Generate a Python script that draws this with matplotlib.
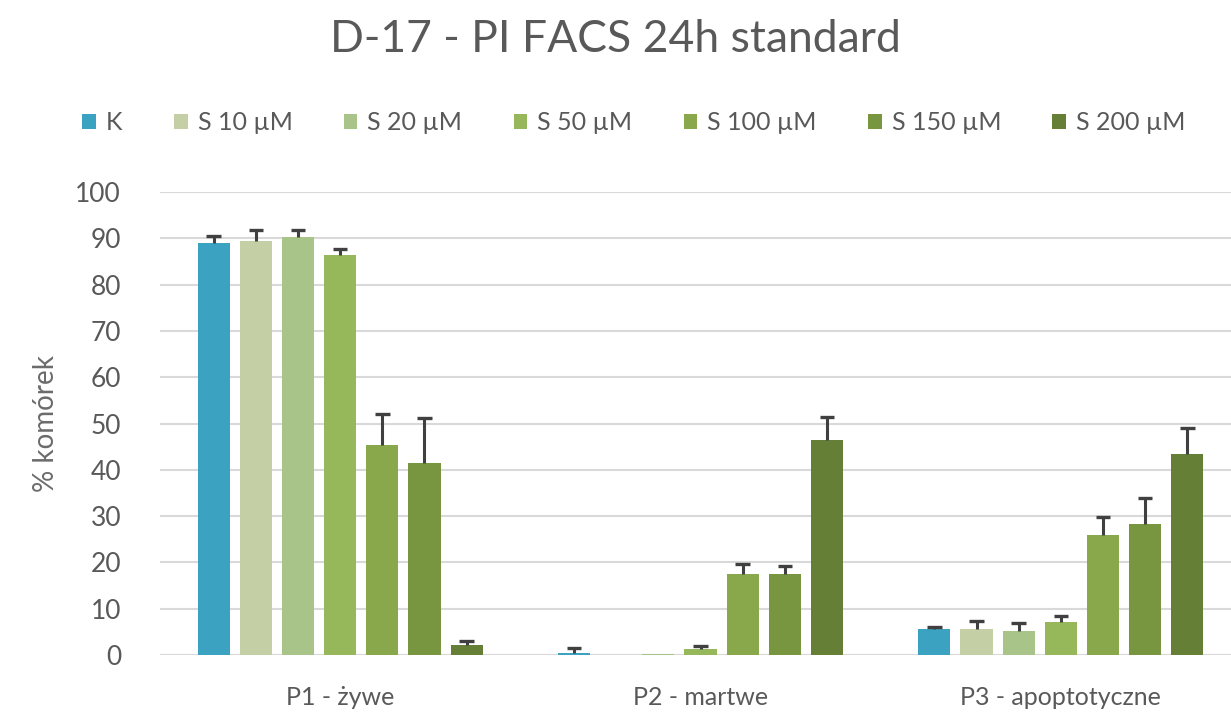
import numpy as np
import matplotlib.pyplot as plt
from matplotlib.patches import Patch

categories = ['P1 - żywe', 'P2 - martwe', 'P3 - apoptotyczne']
series = ['K', 'S 10 µM', 'S 20 µM', 'S 50 µM', 'S 100 µM', 'S 150 µM', 'S 200 µM']

# mean % of cells per series, one value per category
means = [
    [89.0, 0.5, 5.6],
    [89.4, 0.0, 5.6],
    [90.3, 0.3, 5.2],
    [86.4, 1.3, 7.1],
    [45.4, 17.4, 25.9],
    [41.5, 17.4, 28.3],
    [2.2, 46.5, 43.4],
]
# upper error (SD)
errors = [
    [1.4, 1.0, 0.5],
    [2.4, 0.0, 1.8],
    [1.5, 0.0, 1.8],
    [1.3, 0.6, 1.3],
    [6.6, 2.2, 3.9],
    [9.7, 1.8, 5.6],
    [0.9, 4.8, 5.6],
]
colors = ['#3BA3C1', '#C4CFA6', '#A8C489', '#97B85A', '#89A84C', '#78963F', '#667F36']

plt.rcParams['font.family'] = ['Lato', 'DejaVu Sans']
txt = '#595959'

fig = plt.figure(figsize=(12.31, 7.23), dpi=100)
ax = fig.add_axes([160 / 1231, 68 / 723, 1081 / 1231, 463 / 723])

x = np.arange(len(categories))
pitch = 0.117
width = 0.089
cap = 0.02
for i, (name, m, e, c) in enumerate(zip(series, means, errors, colors)):
    pos = x + (i - 3) * pitch
    m = np.array(m)
    e = np.array(e)
    ax.bar(pos, m, width, color=c, label=name, zorder=2)
    # plus-only error bars: stem and top cap
    k = e > 0
    ax.vlines(pos[k], m[k], m[k] + e[k], color='#404040', linewidth=2.2, zorder=3)
    ax.hlines(m[k] + e[k], pos[k] - cap, pos[k] + cap, color='#404040',
              linewidth=2.4, zorder=3)

ax.set_xlim(-0.5, 2.5)
ax.set_ylim(0, 100)
ax.set_yticks(np.arange(0, 101, 10))
ax.yaxis.grid(True, color='#D9D9D9', linewidth=1.5, zorder=0)
ax.set_axisbelow(True)
for s in ax.spines.values():
    s.set_visible(False)
ax.axhline(0, color='#D9D9D9', linewidth=1.5, zorder=1)
ax.tick_params(axis='both', length=0, colors=txt, labelsize=19)
ax.tick_params(axis='y', pad=28)
ax.tick_params(axis='x', pad=22)
ax.set_xticks(x)
ax.set_xticklabels(categories, fontsize=18)
ax.set_ylabel('% komórek', fontsize=20, color='#6b6b6b', labelpad=12)

fig.text(0.5, 0.945, 'D-17 - PI FACS 24h standard', ha='center', va='center',
         fontsize=32, color=txt)

handles = [Patch(facecolor=c, label=n) for n, c in zip(series, colors)]
fig.legend(handles=handles, loc='center', bbox_to_anchor=(0.515, 0.83), ncol=7,
           frameon=False, fontsize=18, handlelength=0.55, handleheight=0.55,
           handletextpad=0.4, columnspacing=2.05, labelcolor=txt)

fig.savefig('out.png', dpi=100)
